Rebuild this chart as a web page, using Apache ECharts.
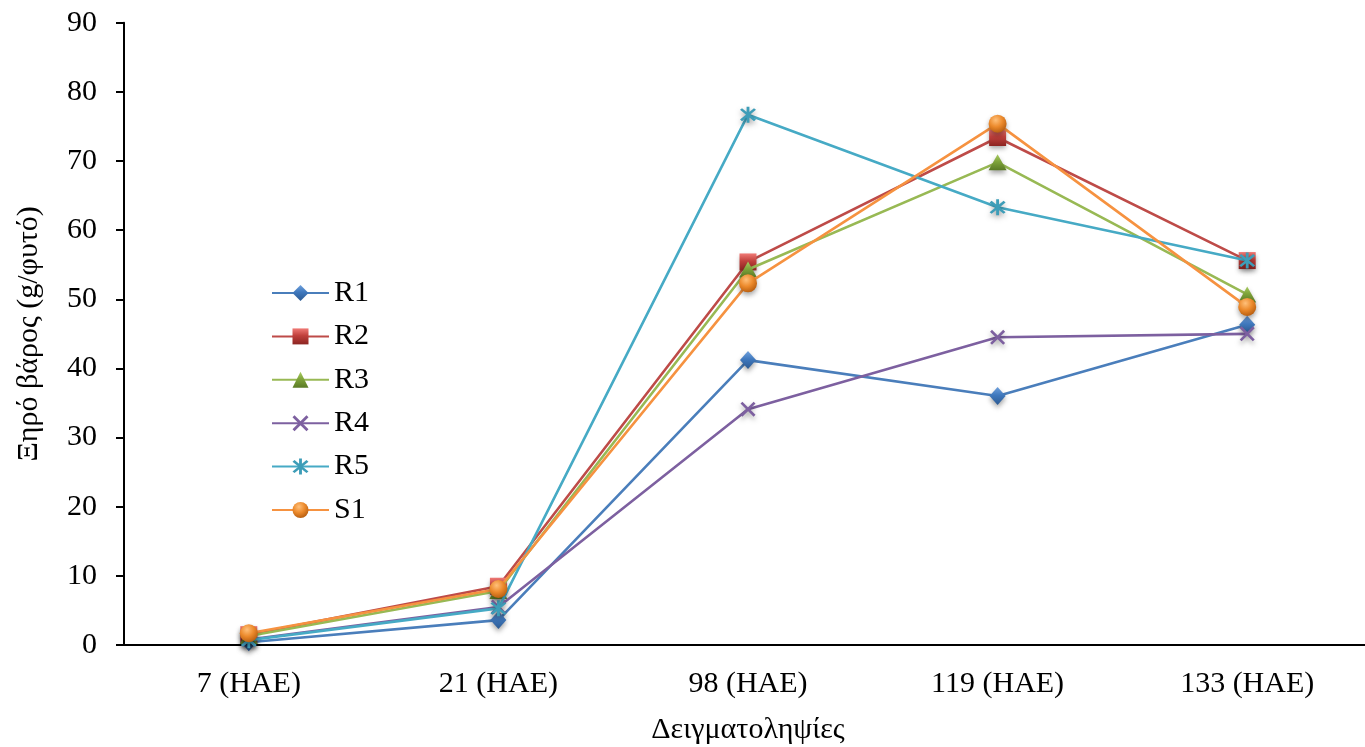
<!DOCTYPE html>
<html>
<head>
<meta charset="utf-8">
<script src="https://cdn.jsdelivr.net/npm/echarts@6/dist/echarts.min.js"></script>
<style>
  html, body { margin: 0; padding: 0; background: #fff; }
  #chart { width: 1365px; height: 747px; }
</style>
</head>
<body>
<div id="chart"></div>
<script>
// Sampling dates and dry weight per plant (g) for each treatment
const categories = ['7 (ΗΑΕ)', '21 (ΗΑΕ)', '98 (ΗΑΕ)', '119 (ΗΑΕ)', '133 (ΗΑΕ)'];
const seriesNames = ['R1', 'R2', 'R3', 'R4', 'R5', 'S1'];
const r1 = [0.4, 3.6, 41.2, 36.0, 46.3];
const r2 = [1.5, 8.5, 55.4, 73.4, 55.6];
const r3 = [1.3, 7.8, 54.3, 69.8, 50.7];
const r4 = [0.8, 5.5, 34.1, 44.5, 45.0];
const r5 = [0.7, 5.3, 76.7, 63.3, 55.6];
const s1 = [1.7, 8.1, 52.3, 75.4, 48.9];
const yTicks = { min: 0, max: 90, step: 10 };

const FONT = '"Liberation Serif", "Times New Roman", serif';

// Build a filled star/cross marker out of rotated bars (same winding so they union)
function barsPath(angles, half, thick) {
  const c = 20;
  let d = '';
  angles.forEach(a => {
    const r = a * Math.PI / 180;
    const dx = Math.cos(r), dy = Math.sin(r);
    const nx = -dy, ny = dx;
    const p = [
      [c + dx * half + nx * thick, c + dy * half + ny * thick],
      [c - dx * half + nx * thick, c - dy * half + ny * thick],
      [c - dx * half - nx * thick, c - dy * half - ny * thick],
      [c + dx * half - nx * thick, c + dy * half - ny * thick]
    ];
    d += 'M' + p.map(q => q[0].toFixed(2) + ',' + q[1].toFixed(2)).join(' L') + ' Z ';
  });
  return 'path://' + d;
}
const crossSymbol = barsPath([45, 135], 18, 2.6);
const starSymbol = barsPath([45, 90, 135], 18, 2.6);

function shade(light, mid, dark) {
  return {
    type: 'linear', x: 0, y: 0, x2: 0, y2: 1,
    colorStops: [
      { offset: 0, color: light },
      { offset: 0.45, color: mid },
      { offset: 1, color: dark }
    ]
  };
}
function ball(light, mid, dark) {
  return {
    type: 'radial', x: 0.4, y: 0.3, r: 0.75,
    colorStops: [
      { offset: 0, color: light },
      { offset: 0.5, color: mid },
      { offset: 1, color: dark }
    ]
  };
}

const markerShadow = {
  shadowBlur: 5,
  shadowColor: 'rgba(0,0,0,0.35)',
  shadowOffsetY: 3
};

const styles = [
  { line: '#4a7ebb', symbol: 'diamond', size: [16, 18], fill: shade('#6fa0dc', '#3f78bd', '#2c5a92') },
  { line: '#be4b48', symbol: 'rect', size: 17, fill: shade('#f07a76', '#c0403c', '#8c2522') },
  { line: '#98b954', symbol: 'triangle', size: [18, 16], fill: shade('#a9cc63', '#7fa43a', '#5a7a25') },
  { line: '#7d60a0', symbol: crossSymbol, size: 15, fill: '#7d60a0' },
  { line: '#46aac5', symbol: starSymbol, size: 16, fill: '#3d9db8' },
  { line: '#f69240', symbol: 'circle', size: 18, fill: ball('#ffc07a', '#ec8a2c', '#b35a0d') }
];
const values = [r1, r2, r3, r4, r5, s1];

const series = seriesNames.map((name, i) => ({
  name: name,
  type: 'line',
  data: values[i],
  symbol: styles[i].symbol,
  symbolSize: styles[i].size,
  showAllSymbol: true,
  z: 2 + i,
  lineStyle: { color: styles[i].line, width: 2.6 },
  itemStyle: Object.assign({ color: styles[i].fill, borderWidth: 0 }, markerShadow),
  emphasis: { disabled: true },
  animation: false
}));

const chart = echarts.init(document.getElementById('chart'), null, { renderer: 'canvas' });
chart.setOption({
  backgroundColor: '#ffffff',
  animation: false,
  textStyle: { fontFamily: FONT },
  grid: {
    left: 124, top: 22.7, height: 622.3, width: 1248,
    containLabel: false,
    outerBoundsMode: 'none'
  },
  legend: {
    orient: 'vertical',
    left: 271,
    top: 278,
    padding: 0,
    itemWidth: 57,
    itemHeight: 20,
    itemGap: 13.4,
    data: seriesNames,
    textStyle: { fontFamily: FONT, fontSize: 30, color: '#000', lineHeight: 30, padding: [0, 0, 0, 0] },
    selectedMode: false
  },
  xAxis: {
    type: 'category',
    data: categories,
    boundaryGap: true,
    name: 'Δειγματοληψίες',
    nameLocation: 'middle',
    nameGap: 70,
    nameTextStyle: { fontFamily: FONT, fontSize: 30, color: '#000' },
    axisLine: { lineStyle: { color: '#000', width: 2 } },
    axisTick: { alignWithLabel: true, length: 6, lineStyle: { color: '#000', width: 2 } },
    axisLabel: { fontFamily: FONT, fontSize: 30, color: '#000', margin: 24 },
    splitLine: { show: false }
  },
  yAxis: {
    type: 'value',
    min: yTicks.min,
    max: yTicks.max,
    interval: yTicks.step,
    name: 'Ξηρό βάρος (g/φυτό)',
    nameLocation: 'middle',
    nameGap: 80,
    nameRotate: 90,
    nameTextStyle: { fontFamily: FONT, fontSize: 30, color: '#000' },
    axisLine: { show: true, lineStyle: { color: '#000', width: 2 } },
    axisTick: { show: true, inside: false, length: 8, lineStyle: { color: '#000', width: 2 } },
    axisLabel: { fontFamily: FONT, fontSize: 30, color: '#000', margin: 27 },
    splitLine: { show: false }
  },
  series: series
});
</script>
</body>
</html>
